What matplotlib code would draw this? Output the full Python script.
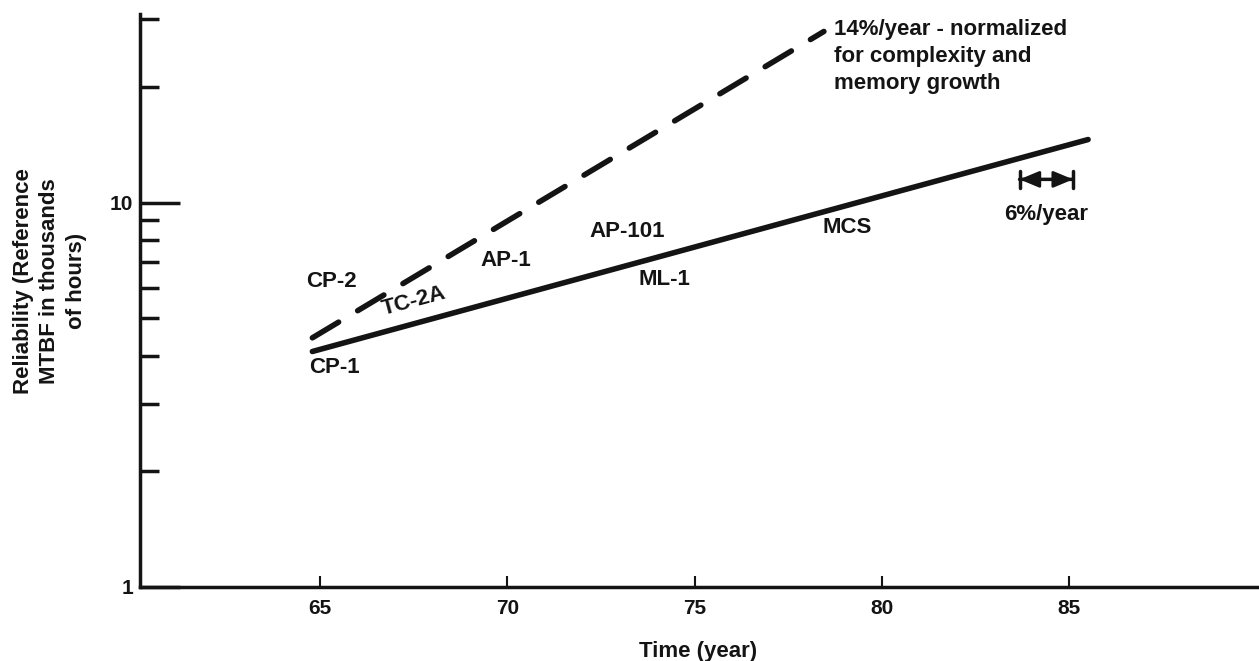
import matplotlib.pyplot as plt
from matplotlib.ticker import FixedLocator, NullFormatter

plt.rcParams['font.family'] = ['Liberation Sans', 'DejaVu Sans']
plt.rcParams['font.weight'] = 'bold'

# trend lines (year, MTBF in thousands of hours)
solid_years = [64.8, 85.5]
solid_mtbf = [4.1, 14.6]
dashed_years = [64.8, 78.45]
dashed_mtbf = [4.45, 27.9]

# program labels
prog_names = ['CP-2', 'TC-2A', 'AP-1', 'AP-101', 'ML-1', 'MCS', 'CP-1']
prog_years = [65.3, 67.5, 69.97, 73.2, 74.2, 79.07, 65.4]
prog_mtbf = [6.22, 5.55, 7.06, 8.4, 6.3, 8.6, 3.73]
prog_rot = [0, 15, 0, 0, 0, 0, 0]

x_ticks = [65, 70, 75, 80, 85]
y_major = [1, 10]
y_minor = [2, 3, 4, 5, 6, 7, 8, 9, 20, 30]

ink = '#141414'
fs = 16

fig = plt.figure(figsize=(12.59, 6.61), dpi=100)
ax = fig.add_axes([0.1112, 0.112, 0.887, 0.867])

ax.plot(solid_years, solid_mtbf, color=ink, lw=4, solid_capstyle='round')
ax.plot(dashed_years, dashed_mtbf, color=ink, lw=4, dashes=(5.5, 4),
        dash_capstyle='round')

for name, x, y, r in zip(prog_names, prog_years, prog_mtbf, prog_rot):
    ax.text(x, y, name, ha='center', va='center', fontsize=fs, rotation=r,
            color=ink)

ax.text(78.72, 30.0, '14%/year - normalized\nfor complexity and\nmemory growth',
        ha='left', va='top', fontsize=fs, color=ink, linespacing=1.35)

# 6%/year marker
ax.annotate('', xy=(85.1, 11.5), xytext=(83.67, 11.5),
            arrowprops=dict(arrowstyle='<|-|>,head_length=0.6,head_width=0.25',
                            mutation_scale=20, color=ink, lw=2,
                            shrinkA=0, shrinkB=0))
ax.annotate('', xy=(85.1, 11.5), xytext=(83.67, 11.5),
            arrowprops=dict(arrowstyle='|-|,widthA=0.3,widthB=0.3',
                            mutation_scale=20, color=ink, lw=2.5,
                            shrinkA=0, shrinkB=0))
ax.text(84.39, 9.3, '6%/year', ha='center', va='center', fontsize=fs, color=ink)

ax.set_yscale('log')
ax.set_xlim(60.2, 90)
ax.set_ylim(1, 31)

ax.yaxis.set_major_locator(FixedLocator(y_major))
ax.yaxis.set_minor_locator(FixedLocator(y_minor))
ax.yaxis.set_minor_formatter(NullFormatter())
ax.set_yticklabels(['1', '10'])
ax.set_xticks(x_ticks)
ax.set_xticklabels([str(t) for t in x_ticks])

ax.tick_params(axis='y', which='major', direction='in', length=29, width=2.5,
               labelsize=15, pad=5, colors=ink)
ax.tick_params(axis='y', which='minor', direction='in', length=14, width=2.5,
               colors=ink)
ax.tick_params(axis='x', which='major', direction='in', length=8, width=1.5,
               labelsize=15, pad=9, colors=ink)

for s in ['top', 'right']:
    ax.spines[s].set_visible(False)
for s in ['left', 'bottom']:
    ax.spines[s].set_linewidth(2.5)
    ax.spines[s].set_color(ink)

ax.set_xlabel('Time (year)', fontsize=fs, fontweight='bold', labelpad=16,
              color=ink)
fig.text(0.0395, 0.575, 'Reliability (Reference\nMTBF in thousands\nof hours)',
         rotation=90, ha='center', va='center', fontsize=fs, linespacing=1.35,
         multialignment='center', color=ink)

fig.savefig('out.png', dpi=100)
